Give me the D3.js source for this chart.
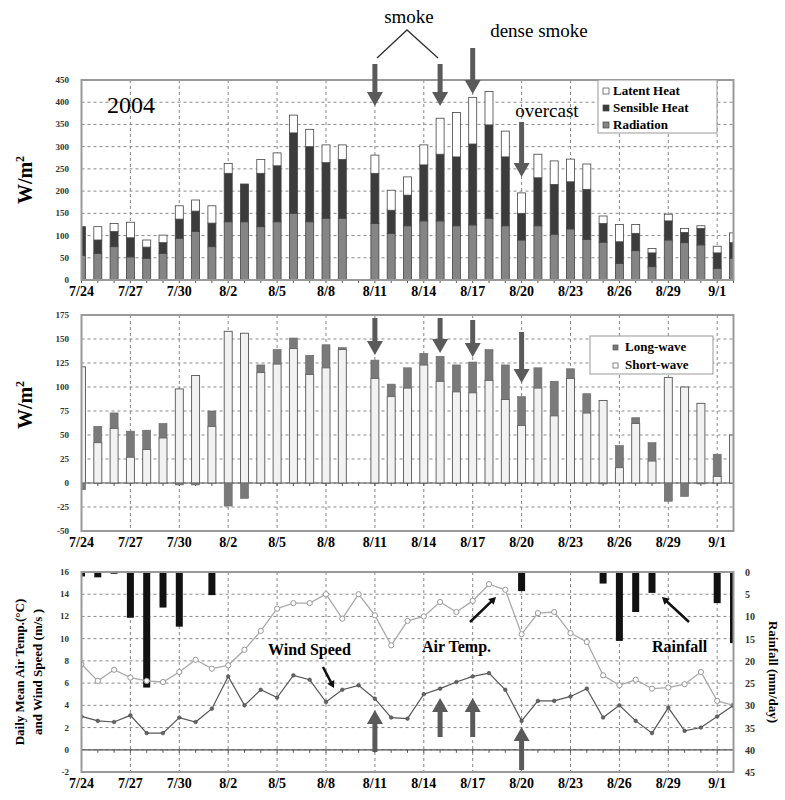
<!DOCTYPE html>
<html>
<head>
<meta charset="utf-8">
<script src="https://cdn.jsdelivr.net/npm/d3@7"></script>
<style>
body { margin: 0; background: #fff; }
svg text { font-family: "Liberation Serif", "DejaVu Serif", serif; }
</style>
</head>
<body>
<svg id="chart" width="785" height="800"></svg>
<script>
// one entry per day, 7/24 .. 9/2
var days = ["7/24","7/25","7/26","7/27","7/28","7/29","7/30","7/31","8/1","8/2",
  "8/3","8/4","8/5","8/6","8/7","8/8","8/9","8/10","8/11","8/12",
  "8/13","8/14","8/15","8/16","8/17","8/18","8/19","8/20","8/21","8/22",
  "8/23","8/24","8/25","8/26","8/27","8/28","8/29","8/30","8/31","9/1","9/2"];
var tickDays = ["7/24","7/27","7/30","8/2","8/5","8/8","8/11","8/14","8/17","8/20","8/23","8/26","8/29","9/1"];

// panel 1 - heat budget (W/m2)
var radiation = [55,60,75,52,49,60,94,109,75,131,131,120,131,150,131,139,139,0,127,105,
  122,133,133,122,124,139,122,90,122,103,115,91,85,37,66,30,90,84,79,26,49];
var sensible  = [65,30,34,43,25,24,43,46,53,109,85,120,126,181,169,125,132,0,113,52,
  69,126,150,155,182,210,155,60,108,112,106,113,42,49,39,31,43,23,37,35,35];
var latent    = [0,30,18,35,16,17,30,25,39,22,0,31,29,40,39,40,33,0,41,45,
  41,45,81,100,105,75,58,46,53,53,51,57,17,39,20,10,15,9,6,15,22];

// panel 2 - radiation components (W/m2)
var shortWave = [121,42,57,27,35,47,98,112,59,158,156,115,124,140,113,120,139,0,109,90,
  99,123,106,95,94,107,87,60,99,70,109,73,86,16,62,23,110,100,83,7,50];
var longWave  = [-7,17,16,27,20,15,-2,-2,16,-24,-16,8,15,11,20,24,2,0,19,13,
  21,12,26,28,32,32,36,30,21,36,10,20,-1,23,6,19,-19,-14,-1,23,0];

// panel 3 - air temp (C), wind speed (m/s), rainfall (mm/day)
var airTemp = [7.7,6.2,7.2,6.5,6.2,6.1,7.0,8.1,7.3,7.6,9.0,10.7,12.7,13.2,13.2,14.0,11.8,14.0,12.1,9.4,
  11.6,12.0,13.3,12.4,13.4,14.9,14.4,10.4,12.3,12.4,10.5,9.7,6.7,5.8,6.3,5.5,5.6,5.9,7.0,4.4,4.0];
var windSpeed = [3.0,2.6,2.5,3.1,1.5,1.5,2.9,2.5,3.7,6.6,4.0,5.4,4.7,6.7,6.3,4.3,5.4,5.8,4.6,2.9,
  2.8,5.0,5.5,6.1,6.6,6.9,5.4,2.6,4.4,4.4,4.8,5.5,2.9,4.0,2.6,1.5,3.8,1.7,2.0,3.0,4.0];
var rainfall = [1.0,1.2,0.4,10.3,26,8,12.3,0,5.2,0,0,0,0,0,0,0,0,0,0,0,
  0,0,0,0,0,0,0,4.3,0,0,0,0,2.6,15.5,9,4.7,0,0,0,7,16];

var svg = d3.select("#chart");
var left = 81.5, right = 733.5;
var x = d3.scaleLinear().domain([0, days.length - 1]).range([left, right]);
var barW = 8;

function dayX(d) { return x(days.indexOf(d)); }

function frame(name, top, bottom, y, ticks) {
  svg.append("clipPath").attr("id", name)
    .append("rect").attr("x", left).attr("y", top).attr("width", right - left).attr("height", bottom - top);
  var g = svg.append("g");
  // grid
  g.selectAll(".hg").data(ticks).enter().append("line")
    .attr("x1", left).attr("x2", right)
    .attr("y1", function(d) { return y(d); }).attr("y2", function(d) { return y(d); })
    .style("stroke", "#888").style("stroke-width", 1).style("stroke-dasharray", "3,3");
  g.selectAll(".vg").data(tickDays).enter().append("line")
    .attr("x1", function(d) { return dayX(d); }).attr("x2", function(d) { return dayX(d); })
    .attr("y1", top).attr("y2", bottom)
    .style("stroke", "#888").style("stroke-width", 1).style("stroke-dasharray", "3,3");
  // zero line + day ticks
  if (y.domain()[0] < 0) {
    g.append("line").attr("x1", left).attr("x2", right).attr("y1", y(0)).attr("y2", y(0))
      .style("stroke", "#555").style("stroke-width", 1.2);
  }
  g.selectAll(".dt").data(days).enter().append("line")
    .attr("x1", function(d, i) { return x(i); }).attr("x2", function(d, i) { return x(i); })
    .attr("y1", y(0)).attr("y2", y(0) + 3)
    .style("stroke", "#555");
  // y tick labels
  g.selectAll(".yl").data(ticks).enter().append("text")
    .attr("x", 69).attr("y", function(d) { return y(d) + 3; })
    .attr("text-anchor", "end").style("font-size", "9px").style("font-weight", "bold")
    .style("fill", "#333").text(function(d) { return d; });
  // x tick labels
  g.selectAll(".xl").data(tickDays).enter().append("text")
    .attr("x", function(d) { return dayX(d); }).attr("y", bottom + 16)
    .attr("text-anchor", "middle").style("font-size", "14px").style("font-weight", "bold")
    .text(function(d) { return d; });
  return g;
}

function border(top, bottom) {
  svg.append("rect").attr("x", left).attr("y", top).attr("width", right - left).attr("height", bottom - top)
    .style("fill", "none").style("stroke", "#999").style("stroke-width", 2);
}

function blockArrow(x1, y1, x2, y2, color, sw, hw, hl) {
  var a = Math.atan2(y2 - y1, x2 - x1), len = Math.hypot(x2 - x1, y2 - y1);
  var pts = [[0, -sw/2], [len - hl, -sw/2], [len - hl, -hw/2], [len, 0], [len - hl, hw/2], [len - hl, sw/2], [0, sw/2]];
  svg.append("polygon")
    .attr("points", pts.map(function(p) { return p.join(","); }).join(" "))
    .attr("transform", "translate(" + x1 + "," + y1 + ") rotate(" + (a * 180 / Math.PI) + ")")
    .style("fill", color);
}

function yLabel(cx, cy, size) {
  return svg.append("text").attr("transform", "translate(" + cx + "," + cy + ") rotate(-90)")
    .attr("text-anchor", "middle").style("font-size", size + "px").style("font-weight", "bold");
}

// ---------- panel 1 ----------
var y1 = d3.scaleLinear().domain([0, 450]).range([280, 80]);
frame("clip1", 80, 280, y1, d3.range(0, 451, 50));
var heat = days.map(function(d, i) { return {day: i, radiation: radiation[i], sensible: sensible[i], latent: latent[i]}; });
var stack1 = d3.stack().keys(["radiation", "sensible", "latent"])(heat);
var fill1 = {radiation: "#858585", sensible: "#3c3c3c", latent: "#ffffff"};
svg.append("g").attr("clip-path", "url(#clip1)")
  .selectAll("g").data(stack1).enter().append("g")
  .style("fill", function(s) { return fill1[s.key]; })
  .selectAll("rect").data(function(s) { return s.filter(function(d) { return d[1] > d[0]; }); })
  .enter().append("rect")
  .attr("x", function(d) { return x(d.data.day) - barW / 2; })
  .attr("width", barW)
  .attr("y", function(d) { return y1(d[1]); })
  .attr("height", function(d) { return y1(d[0]) - y1(d[1]); })
  .style("stroke", "#444").style("stroke-width", 0.8);
border(80, 280);

svg.append("text").attr("x", 107).attr("y", 113).style("font-size", "24px").text("2004");
var t1 = yLabel(32, 180, 20);
t1.append("tspan").text("W/m");
t1.append("tspan").attr("dy", -8).style("font-size", "12px").text("2");

// legend 1
var lg1 = svg.append("g");
lg1.append("rect").attr("x", 598).attr("y", 80).attr("width", 119).attr("height", 53)
  .style("fill", "#fff").style("stroke", "#999");
[["Latent Heat", "latent"], ["Sensible Heat", "sensible"], ["Radiation", "radiation"]].forEach(function(it, i) {
  lg1.append("rect").attr("x", 603).attr("y", 88 + i * 17).attr("width", 6).attr("height", 6)
    .style("fill", fill1[it[1]]).style("stroke", "#444").style("stroke-width", 0.7);
  lg1.append("text").attr("x", 613).attr("y", 95 + i * 17)
    .style("font-size", "13px").style("font-weight", "bold").text(it[0]);
});

// annotations above panel 1
svg.append("text").attr("x", 409).attr("y", 23).attr("text-anchor", "middle").style("font-size", "19px").text("smoke");
svg.append("path").attr("d", "M377,58 L407,30 L438,58").style("fill", "none").style("stroke", "#333").style("stroke-width", 1.3);
svg.append("text").attr("x", 539).attr("y", 37).attr("text-anchor", "middle").style("font-size", "19px").text("dense smoke");
svg.append("text").attr("x", 547).attr("y", 117).attr("text-anchor", "middle").style("font-size", "19px").text("overcast");
var arrowGray = "#5a5a5a";
blockArrow(dayX("8/11"), 64, dayX("8/11"), 106, arrowGray, 5, 16, 14);
blockArrow(dayX("8/15"), 64, dayX("8/15"), 106, arrowGray, 5, 16, 14);
blockArrow(dayX("8/17"), 48, dayX("8/17"), 94, arrowGray, 5, 16, 14);
blockArrow(dayX("8/20"), 122, dayX("8/20"), 177, arrowGray, 5, 16, 14);

// ---------- panel 2 ----------
var y2 = d3.scaleLinear().domain([-50, 175]).range([531, 315]);
frame("clip2", 315, 531, y2, d3.range(-50, 176, 25));
var rad2 = days.map(function(d, i) { return {i: i, sw: shortWave[i], lw: longWave[i]}; });
var g2 = svg.append("g").attr("clip-path", "url(#clip2)");
g2.selectAll(".sw").data(rad2.filter(function(d) { return d.sw > 0; })).enter().append("rect")
  .attr("x", function(d) { return x(d.i) - barW / 2; })
  .attr("width", barW)
  .attr("y", function(d) { return y2(d.sw); })
  .attr("height", function(d) { return y2(0) - y2(d.sw); })
  .style("fill", "#f2f2f2").style("stroke", "#555").style("stroke-width", 0.9);
g2.selectAll(".lw").data(rad2.filter(function(d) { return d.lw !== 0; })).enter().append("rect")
  .attr("x", function(d) { return x(d.i) - barW / 2; })
  .attr("width", barW)
  .attr("y", function(d) { return d.lw > 0 ? y2(d.sw + d.lw) : y2(0); })
  .attr("height", function(d) { return Math.abs(y2(0) - y2(d.lw)); })
  .style("fill", "#7a7a7a").style("stroke", "#666").style("stroke-width", 0.6);
border(315, 531);
var t2 = yLabel(32, 405, 20);
t2.append("tspan").text("W/m");
t2.append("tspan").attr("dy", -8).style("font-size", "12px").text("2");

var lg2 = svg.append("g");
lg2.append("rect").attr("x", 590).attr("y", 336).attr("width", 123).attr("height", 38)
  .style("fill", "#fff").style("stroke", "#999");
[["Long-wave", "#7a7a7a"], ["Short-wave", "#fff"]].forEach(function(it, i) {
  lg2.append("rect").attr("x", 613).attr("y", 345 + i * 18).attr("width", 5).attr("height", 5)
    .style("fill", it[1]).style("stroke", "#555").style("stroke-width", 0.7);
  lg2.append("text").attr("x", 625).attr("y", 351 + i * 18)
    .style("font-size", "13px").style("font-weight", "bold").text(it[0]);
});
blockArrow(dayX("8/11"), 318, dayX("8/11"), 355, arrowGray, 5, 16, 14);
blockArrow(dayX("8/15"), 318, dayX("8/15"), 353, arrowGray, 5, 16, 14);
blockArrow(dayX("8/17"), 320, dayX("8/17"), 357, arrowGray, 5, 16, 14);
blockArrow(dayX("8/20"), 332, dayX("8/20"), 383, arrowGray, 5, 16, 14);

// ---------- panel 3 ----------
var y3 = d3.scaleLinear().domain([-2, 16]).range([772, 572]);
var yr = d3.scaleLinear().domain([0, 45]).range([572, 772]);
frame("clip3", 572, 772, y3, d3.range(-2, 17, 2));
var g3 = svg.append("g").attr("clip-path", "url(#clip3)");
g3.selectAll(".rain").data(rainfall.map(function(v, i) { return {i: i, v: v}; }).filter(function(d) { return d.v > 0; }))
  .enter().append("rect")
  .attr("x", function(d) { return x(d.i) - 3.5; })
  .attr("width", 7)
  .attr("y", yr(0))
  .attr("height", function(d) { return yr(d.v) - yr(0); })
  .style("fill", "#111");

var line = d3.line().x(function(d, i) { return x(i); }).y(function(d) { return y3(d); });
g3.append("path").datum(airTemp).attr("d", line)
  .style("fill", "none").style("stroke", "#aaa").style("stroke-width", 1.3);
g3.selectAll(".at").data(airTemp).enter().append("circle")
  .attr("cx", function(d, i) { return x(i); }).attr("cy", function(d) { return y3(d); }).attr("r", 2.6)
  .style("fill", "#fff").style("stroke", "#999").style("stroke-width", 1);
g3.append("path").datum(windSpeed).attr("d", line)
  .style("fill", "none").style("stroke", "#555").style("stroke-width", 1.2);
g3.selectAll(".ws").data(windSpeed).enter().append("circle")
  .attr("cx", function(d, i) { return x(i); }).attr("cy", function(d) { return y3(d); }).attr("r", 1.8)
  .style("fill", "#666").style("stroke", "#444").style("stroke-width", 0.6);
border(572, 772);

svg.selectAll(".rl").data(d3.range(0, 46, 5)).enter().append("text")
  .attr("x", 745).attr("y", function(d) { return yr(d) + 4; })
  .style("font-size", "10px").style("font-weight", "bold").style("fill", "#333")
  .text(function(d) { return d; });

svg.append("text").attr("transform", "translate(24,672) rotate(-90)").attr("text-anchor", "middle")
  .style("font-size", "13px").style("font-weight", "bold").text("Daily Mean Air Temp.(\u00b0C)");
svg.append("text").attr("transform", "translate(42,672) rotate(-90)").attr("text-anchor", "middle")
  .style("font-size", "13px").style("font-weight", "bold").text("and Wind Speed (m/s )");
svg.append("text").attr("transform", "translate(769,672) rotate(90)").attr("text-anchor", "middle")
  .style("font-size", "13px").style("font-weight", "bold").text("Rainfall (mm/day)");

svg.append("text").attr("x", 268).attr("y", 655).style("font-size", "16px").style("font-weight", "bold").text("Wind Speed");
svg.append("text").attr("x", 422).attr("y", 652).style("font-size", "16px").style("font-weight", "bold").text("Air Temp.");
svg.append("text").attr("x", 652).attr("y", 652).style("font-size", "16px").style("font-weight", "bold").text("Rainfall");
blockArrow(323, 667, 334, 688, "#111", 2.5, 8, 7);
blockArrow(470, 622, 496, 597, "#111", 2.5, 8, 7);
blockArrow(689, 622, 662, 597, "#111", 2.5, 8, 7);

blockArrow(dayX("8/11"), 752, dayX("8/11"), 710, arrowGray, 5, 16, 14);
blockArrow(dayX("8/15"), 737, dayX("8/15"), 698, arrowGray, 5, 16, 14);
blockArrow(dayX("8/17"), 737, dayX("8/17"), 698, arrowGray, 5, 16, 14);
blockArrow(dayX("8/20"), 770, dayX("8/20"), 727, arrowGray, 5, 16, 14);
</script>
</body>
</html>
